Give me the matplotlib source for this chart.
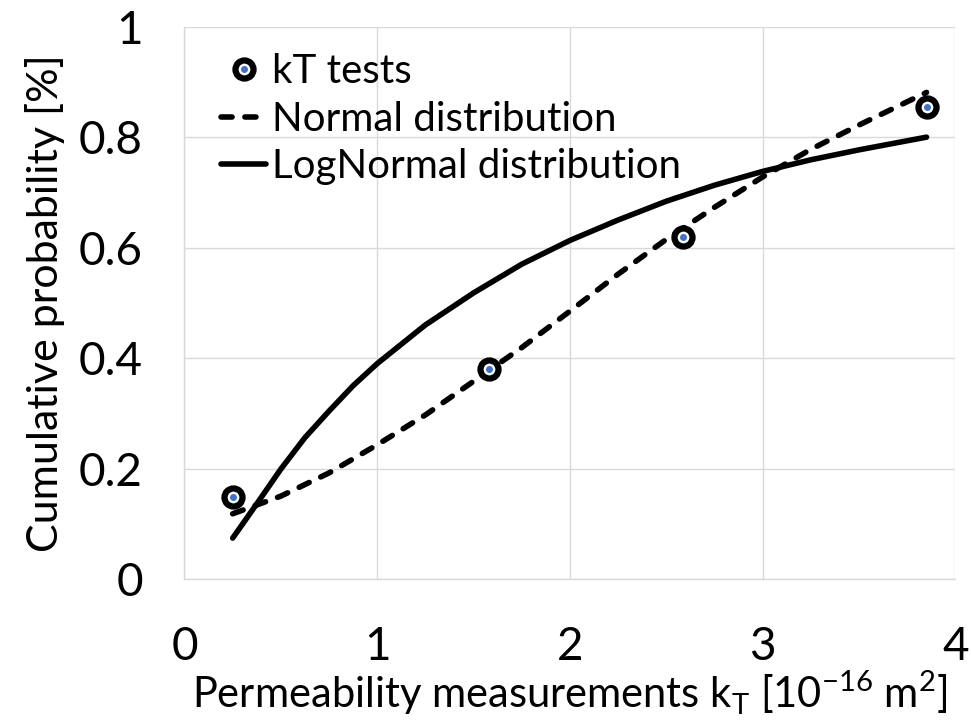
import matplotlib.pyplot as plt
from matplotlib.legend_handler import HandlerTuple

# ----- data -----
test_k = [0.25, 1.58, 2.585, 3.85]
test_prob = [0.148, 0.381, 0.619, 0.855]

normal_k = [0.25, 0.5, 0.75, 1.0, 1.25, 1.5, 1.75, 2.0, 2.25, 2.5, 2.75, 3.0, 3.25, 3.5, 3.85]
normal_prob = [0.118, 0.150, 0.192, 0.243, 0.297, 0.358, 0.419, 0.485, 0.552, 0.615,
               0.673, 0.728, 0.778, 0.822, 0.881]

lognormal_k = [0.25, 0.375, 0.5, 0.625, 0.75, 0.875, 1.0, 1.25, 1.5, 1.75, 2.0, 2.25,
               2.5, 2.75, 3.0, 3.25, 3.5, 3.85]
lognormal_prob = [0.074, 0.136, 0.199, 0.256, 0.304, 0.350, 0.390, 0.460, 0.518, 0.570,
                  0.613, 0.650, 0.684, 0.713, 0.738, 0.759, 0.777, 0.800]

x_ticks = [0, 1, 2, 3, 4]
y_ticks = [0, 0.2, 0.4, 0.6, 0.8, 1]
y_ticklabels = ['0', '0.2', '0.4', '0.6', '0.8', '1']

grid_color = '#d9d9d9'
blue = '#4472C4'

plt.rcParams['font.family'] = ['Lato', 'DejaVu Sans']
plt.rcParams['mathtext.fontset'] = 'custom'
plt.rcParams['mathtext.rm'] = 'Lato'

fig = plt.figure(figsize=(9.71, 7.21), dpi=100)
ax = fig.add_axes([0.19, 0.197, 0.794, 0.766])

ring, = ax.plot(test_k, test_prob, 'o', ms=13, mfc='white', mec='black', mew=4.5,
                zorder=4, clip_on=False)
dot, = ax.plot(test_k, test_prob, 'o', ms=4, mfc=blue, mec=blue, zorder=5, clip_on=False)
norm_line, = ax.plot(normal_k, normal_prob, color='black', lw=4, ls=(0, (2.0, 2.3)),
                     dash_capstyle='round', solid_capstyle='round', zorder=3, clip_on=False)
log_line, = ax.plot(lognormal_k, lognormal_prob, color='black', lw=4,
                    solid_capstyle='round', solid_joinstyle='round', zorder=3, clip_on=False)

ax.set_xlim(0, 4)
ax.set_ylim(0, 1)
ax.set_xticks(x_ticks)
ax.set_yticks(y_ticks)
ax.set_yticklabels(y_ticklabels)
ax.tick_params(axis='both', length=0, labelsize=33)
ax.tick_params(axis='x', pad=34)
ax.tick_params(axis='y', pad=30)
ax.grid(True, color=grid_color, lw=1)
ax.set_axisbelow(True)
for side in ['top', 'right']:
    ax.spines[side].set_visible(False)
for side in ['left', 'bottom']:
    ax.spines[side].set_color(grid_color)
    ax.spines[side].set_linewidth(1)

ax.set_ylabel('Cumulative probability [%]', fontsize=31, labelpad=10)
ax.set_xlabel(r'Permeability measurements k$_\mathregular{T}$ '
              r'[10$^\mathregular{-16}$ m$^\mathregular{2}$]', fontsize=30, labelpad=0)

ax.legend([(ring, dot), norm_line, log_line],
          ['kT tests', 'Normal distribution', 'LogNormal distribution'],
          handler_map={tuple: HandlerTuple(ndivide=1, pad=0)},
          loc='upper left', bbox_to_anchor=(0.048, 0.952), frameon=False,
          fontsize=29, handlelength=1.1, handletextpad=0.15, labelspacing=0.26,
          borderaxespad=0, borderpad=0)

fig.savefig('out.png', dpi=100)
